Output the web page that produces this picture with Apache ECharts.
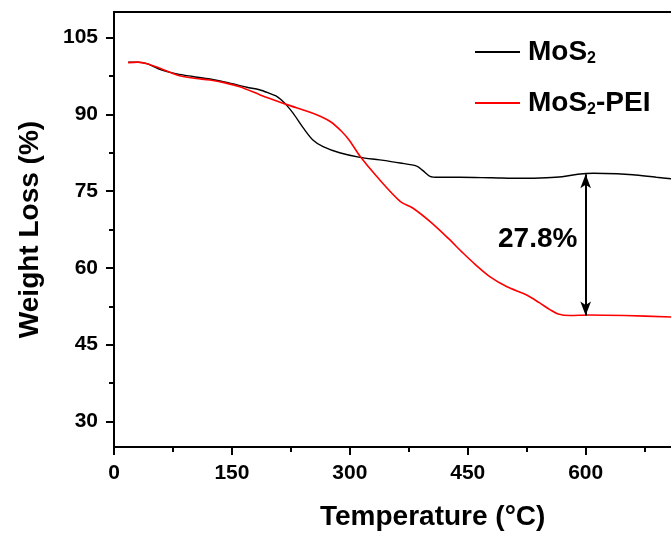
<!DOCTYPE html>
<html>
<head>
<meta charset="utf-8">
<script src="https://cdn.jsdelivr.net/npm/echarts@6/dist/echarts.min.js"></script>
<style>
  html, body { margin: 0; padding: 0; background: #fff; }
  #chart { width: 671px; height: 534px; }
</style>
</head>
<body>
<div id="chart"></div>
<script>
// TGA curves, [temperature (°C), weight (%)]
var mos2Data = [
  [18, 100.2], [30, 100.2], [42, 99.9], [60, 98.7], [80, 97.9], [100, 97.4],
  [122, 96.9], [145, 96.2], [169, 95.3], [185, 94.8], [198, 94.1], [206, 93.6],
  [213, 92.8], [220, 91.7], [228, 90.2], [241, 87.3], [253, 85.0], [266, 83.7],
  [287, 82.5], [313, 81.6], [338, 81.1], [364, 80.5], [385, 79.9], [393, 79.0],
  [402, 77.9], [412, 77.7], [440, 77.7], [480, 77.6], [520, 77.5], [550, 77.6],
  [570, 77.8], [590, 78.3], [610, 78.5], [640, 78.4], [660, 78.2], [690, 77.7],
  [710, 77.4]
];
var peiData = [
  [18, 100.1], [30, 100.2], [42, 99.9], [60, 98.9], [80, 97.7], [100, 97.1],
  [122, 96.7], [140, 96.2], [160, 95.4], [186, 93.8], [200, 93.0], [220, 91.9],
  [253, 90.2], [275, 88.6], [290, 86.6], [300, 84.8], [313, 81.8], [334, 77.9],
  [364, 73.0], [380, 71.7], [404, 68.8], [425, 65.8], [444, 62.9], [460, 60.6],
  [478, 58.3], [500, 56.3], [525, 54.7], [541, 53.2], [555, 51.8], [565, 51.0],
  [580, 50.7], [603, 50.8], [650, 50.7], [710, 50.4]
];
var xTicks = [0, 150, 300, 450, 600];
var xMinorTicks = [75, 225, 375, 525, 675];
var yTicks = [30, 45, 60, 75, 90, 105];
var yMinorTicks = [37.5, 52.5, 67.5, 82.5, 97.5];
// arrow between the two plateaus at 600 °C
var gapTop = [600, 78.3];
var gapBottom = [600, 50.7];
var gapText = '27.8%';
var gapTextAt = [539, 65.5];

var font = 'Liberation Sans, Arial, sans-serif';
var chart = echarts.init(document.getElementById('chart'));

function legendAt(name, top) {
  return {
    orient: 'vertical', left: 470, top: top,
    itemWidth: 45, itemHeight: 2, icon: 'rect',
    data: [name],
    formatter: function (n) {
      return n === 'MoS2' ? '{b|MoS}{s|2}' : '{b|MoS}{s|2}{b|-PEI}';
    },
    textStyle: {
      padding: [0, 0, 0, 3],
      rich: {
        b: { fontSize: 28, fontWeight: 'bold', color: '#000', fontFamily: font, lineHeight: 32 },
        s: { fontSize: 16, fontWeight: 'bold', color: '#000', fontFamily: font, lineHeight: 32, padding: [14, 0, 0, 0] }
      }
    }
  };
}

var option = {
  animation: false,
  backgroundColor: '#fff',
  grid: {
    left: 114, top: 12, width: 566, height: 435,
    outerBoundsMode: 'none', containLabel: false,
    show: true, borderColor: '#000', borderWidth: 2
  },
  xAxis: [
    {
      type: 'value', min: 0, max: 720,
      axisLine: { show: true, onZero: false, lineStyle: { color: '#000', width: 2 } },
      axisTick: { show: true, length: 8, customValues: xTicks, lineStyle: { color: '#000', width: 2 } },
      axisLabel: { customValues: xTicks, margin: 16, color: '#000', fontSize: 21, fontWeight: 'bold', fontFamily: font },
      splitLine: { show: false }
    },
    {
      type: 'value', min: 0, max: 720, position: 'bottom',
      axisLine: { show: false },
      axisTick: { show: true, length: 5, customValues: xMinorTicks, lineStyle: { color: '#000', width: 2 } },
      axisLabel: { show: false },
      splitLine: { show: false }
    }
  ],
  yAxis: [
    {
      type: 'value', min: 25, max: 110,
      name: 'Weight Loss (%)', nameLocation: 'middle', nameGap: 70,
      nameTextStyle: { color: '#000', fontSize: 28, fontWeight: 'bold', fontFamily: font },
      axisLine: { show: true, onZero: false, lineStyle: { color: '#000', width: 2 } },
      axisTick: { show: true, length: 8, customValues: yTicks, lineStyle: { color: '#000', width: 2 } },
      axisLabel: { customValues: yTicks, margin: 16, color: '#000', fontSize: 21, fontWeight: 'bold', fontFamily: font },
      splitLine: { show: false }
    },
    {
      type: 'value', min: 25, max: 110, position: 'left',
      axisLine: { show: false },
      axisTick: { show: true, length: 5, customValues: yMinorTicks, lineStyle: { color: '#000', width: 2 } },
      axisLabel: { show: false },
      splitLine: { show: false }
    }
  ],
  legend: [legendAt('MoS2', 32), legendAt('MoS2-PEI', 83)],
  graphic: [{
    type: 'text', left: 320, top: 503,
    style: { text: 'Temperature (°C)', fill: '#000', font: 'bold 28px ' + font }
  }],
  series: [
    {
      name: 'MoS2', type: 'line', data: mos2Data, smooth: 0.3,
      showSymbol: false, symbol: 'none', color: '#000',
      lineStyle: { color: '#000', width: 1.4 },
      markLine: {
        silent: true, symbol: ['arrow', 'arrow'], symbolSize: [8, 14],
        lineStyle: { color: '#000', width: 2, type: 'solid' },
        label: { show: false },
        data: [[{ coord: gapTop }, { coord: gapBottom }]]
      },
      markPoint: {
        silent: true, symbol: 'circle', symbolSize: 0,
        label: { show: true, position: 'inside', formatter: gapText, color: '#000', fontSize: 28, fontWeight: 'bold', fontFamily: font },
        data: [{ coord: gapTextAt }]
      }
    },
    {
      name: 'MoS2-PEI', type: 'line', data: peiData, smooth: 0.3,
      showSymbol: false, symbol: 'none', color: '#f00',
      lineStyle: { color: '#f00', width: 1.6 }
    }
  ]
};
chart.setOption(option);
</script>
</body>
</html>
